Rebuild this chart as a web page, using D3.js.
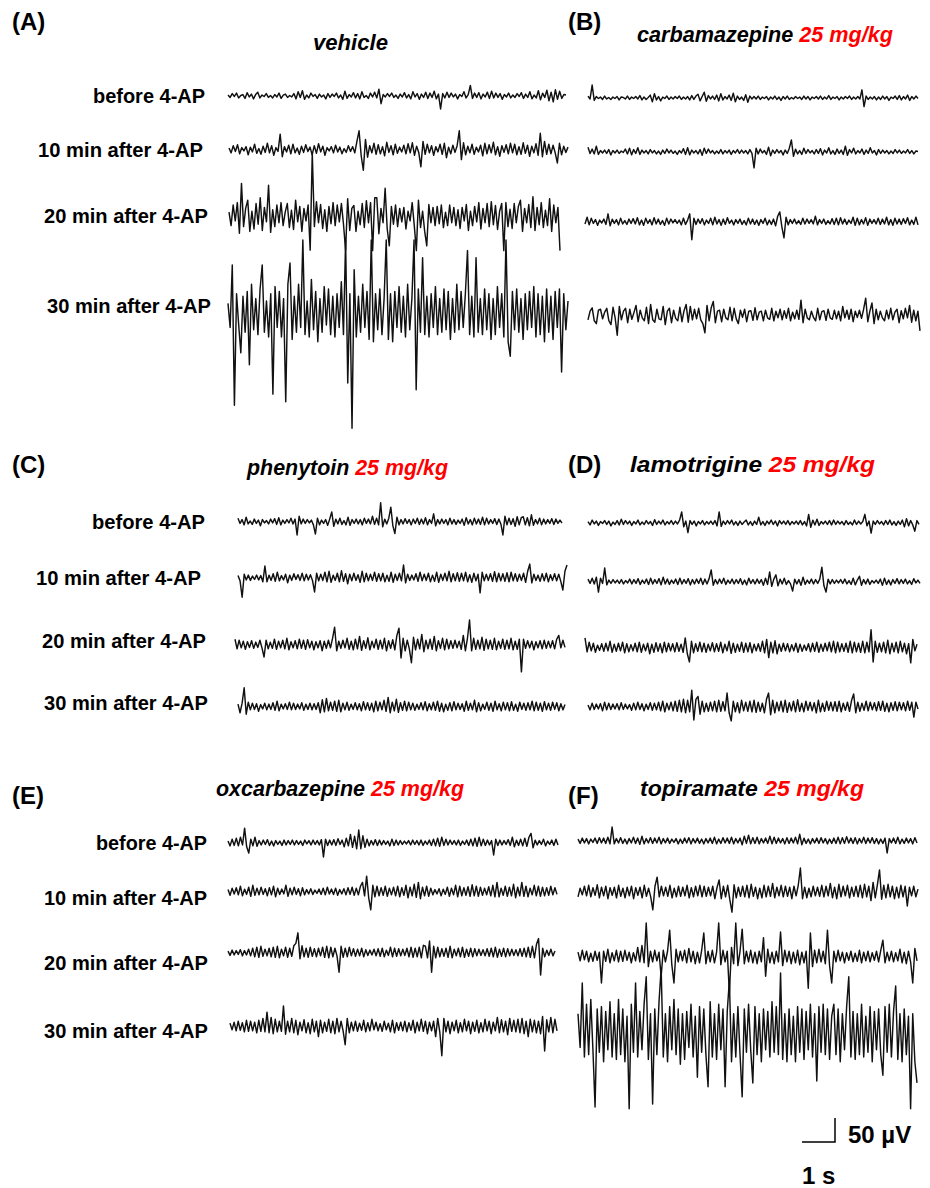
<!DOCTYPE html>
<html><head><meta charset="utf-8">
<script src="https://cdn.jsdelivr.net/npm/d3@7"></script>
<style>body{margin:0;background:#fff}</style>
</head><body><svg id="c" width="930" height="1188"></svg>
<script>
// ---------------- data ----------------
const rowLabels = ["before 4-AP", "10 min after 4-AP", "20 min after 4-AP", "30 min after 4-AP"];
const panelLetters = ["(A)", "(B)", "(C)", "(D)", "(E)", "(F)"];
const drugNames = ["vehicle", "carbamazepine", "phenytoin", "lamotrigine", "oxcarbazepine", "topiramate"];
const drugDoses = ["", "25 mg/kg", "25 mg/kg", "25 mg/kg", "25 mg/kg", "25 mg/kg"];
const traceDurationSec = 10;       // each trace is 10 s long
const scaleBarMicroV = 50;         // vertical calibration
const scaleBarSec = 1;             // horizontal calibration
const scaleBarLabels = ["50 µV", "1 s"];

// EEG traces in µV, 160 samples per 10 s trace
const vehicleBefore = [2,-3,5,-1,6,-4,1,3,-5,7,-2,4,-6,3,8,-4,2,-1,5,-3,1,-4,3,-2,6,-5,2,4,-3,1,-2,5,-6,9,-3,11,-7,2,-4,6,-1,3,-5,4,-2,2,-6,5,-3,4,-1,6,-4,2,-7,10,-5,3,-2,7,-4,5,-6,9,-3,1,-5,6,-2,8,-4,14,-16,3,-2,5,-1,6,-3,2,-5,4,-2,7,-4,3,-6,9,-2,5,-7,4,-3,8,-5,6,-3,10,-6,4,-27,5,-4,8,-3,6,-2,4,-6,3,-1,9,-4,3,22,-5,6,-3,7,-6,4,-2,8,-5,10,-4,6,-3,5,-7,3,-2,6,-4,2,-3,5,-1,7,-5,4,-3,9,-6,2,-4,11,-8,6,-3,12,-10,8,-12,13,-7,10,-5,3,2];
const vehicle10 = [4,-6,9,-3,11,-8,5,-2,7,-10,6,-4,12,-7,3,-9,8,-5,14,-6,9,-11,5,-3,33,-14,7,-4,10,-8,12,-6,4,-9,8,-5,11,-3,6,-10,9,-7,13,-4,8,-11,5,-2,7,-6,10,-4,6,-8,3,-5,9,-3,7,-6,18,40,-12,-42,22,-15,9,-6,14,-9,11,-8,7,-12,16,-5,9,-10,12,-7,6,-4,10,-8,13,-6,15,-11,8,-5,-35,18,-9,12,-6,9,-11,7,-4,12,-9,14,-16,6,-8,10,-5,9,40,-20,15,-10,8,-6,12,-9,6,-4,10,-12,14,-8,11,-6,16,-10,7,-13,9,-5,11,-8,14,-6,12,-10,7,-9,15,-7,10,-13,8,-6,13,-11,35,-14,18,-9,12,-8,10,-6,-27,14,-10,8,-5,6];
const vehicle20 = [10,-18,25,-8,30,-34,70,-20,18,35,-30,12,-25,28,-15,40,-28,20,-10,66,-32,15,-20,25,-12,30,-18,10,28,-22,14,-26,35,-10,22,-30,18,-8,25,-69,133,-20,32,-12,26,-24,15,-30,22,-14,30,-18,25,-10,28,-15,-69,38,-28,18,24,-30,12,-16,28,-22,34,-12,30,-70,40,40,-35,18,-12,60,-25,-60,22,-15,25,-20,18,-10,20,-25,12,-8,30,-18,-70,35,-22,12,-30,-60,26,-12,20,-18,22,-14,25,-22,10,-18,25,-12,20,-18,15,-24,20,-8,26,-28,12,-18,22,-10,30,-25,18,-12,28,-20,32,-16,24,-26,12,28,-70,30,-20,16,-24,28,-12,22,35,-30,18,-12,26,-22,42,-28,20,-16,30,-22,14,-18,38,-30,25,-12,20,-70];
const vehicle30 = [20,-30,100,-192,40,-25,-83,35,-40,45,-108,60,-35,30,-45,50,100,-40,25,-50,40,-169,55,-30,45,-50,30,-185,60,104,-55,35,-40,60,-30,152,-45,25,-50,70,-35,45,-60,30,-40,55,-25,50,-45,35,-50,40,-30,65,-45,152,-146,40,-240,90,-50,35,-40,60,-30,45,-55,152,-60,40,-35,50,-45,30,152,-55,40,-60,45,-30,55,-40,35,-50,60,-35,30,152,-160,50,-40,115,-45,35,-50,40,-30,55,-45,30,-40,50,-35,45,-55,30,-40,60,-35,45,-30,40,130,-45,35,-50,115,-40,30,-45,50,-35,40,-55,30,-45,55,-30,40,-50,152,-60,-90,45,-35,50,-40,30,-55,40,-35,45,-30,55,-50,40,-45,35,-60,50,-40,35,-55,45,-30,50,-123,40,-35,25];

const carbBefore = [4,-2,27,-5,3,-1,2,-3,4,-2,1,-3,2,-1,3,-4,2,1,-2,4,-3,2,-1,3,-2,5,-4,2,-3,1,6,-8,9,-4,3,-6,2,-1,4,-3,2,-2,3,-1,4,-3,2,-2,3,-4,5,-3,4,8,-6,3,12,-7,5,-2,4,-3,6,-6,9,-4,3,-2,6,-5,10,-8,4,-3,2,-5,7,-9,4,-2,3,-2,4,-3,2,-1,3,-4,2,-2,4,-3,2,-5,3,-2,4,-3,1,-2,3,-1,2,-3,4,-2,3,-4,2,-1,3,-2,4,-3,2,-2,5,-3,2,-1,3,-4,2,-2,3,-1,4,-3,2,-2,3,-2,17,-18,4,-3,2,-2,3,-4,2,-3,4,-2,3,-5,2,-1,4,-3,5,-4,3,-2,6,-5,3,-2,4,-1];
const carb10 = [10,-3,6,-4,12,-5,3,-2,4,-3,5,-6,3,-2,4,-3,2,-1,6,-4,8,-6,5,-3,9,-5,4,-2,3,-4,5,-2,3,-4,2,-5,4,-3,6,-2,4,-3,2,-5,3,-2,7,-5,9,-6,4,-2,3,-4,5,-7,8,-3,6,-2,3,-4,2,-3,5,-4,3,-2,4,-5,3,-2,5,-3,4,-2,3,-4,5,-3,-33,8,-4,6,-2,3,-5,10,-8,4,-3,5,-2,3,-6,4,-3,8,25,-9,6,-4,3,-5,8,-3,5,-2,3,-4,5,-3,7,-6,4,-2,9,-4,3,-5,6,-3,4,-5,12,-7,5,-2,8,-4,3,-2,6,-5,4,-3,9,-2,3,-6,5,-3,4,-2,3,-4,2,-3,5,-2,4,-3,2,-2,5,-3,3,-4,2,1];
const carb20 = [-4,10,-6,8,-3,5,-7,4,-2,6,-5,17,-8,6,-3,5,-6,8,-4,3,-5,6,-3,7,-4,9,-6,4,-7,8,-3,5,-6,9,-4,6,-5,3,-7,8,-4,6,-2,5,-3,4,-6,8,-5,4,17,-37,8,-5,6,-3,7,-6,4,-3,8,-6,10,-4,5,-7,6,-5,9,-3,4,-6,5,-3,6,-5,3,-6,8,-4,6,-5,4,-7,5,-3,8,-6,4,-5,6,-8,12,21,-10,-33,10,-6,5,-3,6,-4,3,-5,8,-4,6,-3,5,-4,12,-6,5,-3,6,-5,3,-4,7,-5,8,-6,9,-4,6,-5,4,-3,10,-7,8,-6,5,-4,9,-7,6,-3,5,-4,8,-5,6,-4,10,-6,5,-7,8,-4,6,-5,7,-3,9,-6,4,-5,10,-6];
const carb30 = [-10,8,15,-12,-18,10,12,-8,6,14,-12,-20,16,-6,-42,18,-10,8,14,-16,12,-9,5,20,-14,10,-6,-12,16,-18,22,-10,-15,12,-8,-10,18,-20,8,14,-16,10,-7,-12,16,-14,9,22,-15,18,-10,12,-8,14,-10,-18,-37,20,-12,15,28,-16,8,10,-14,12,-6,-10,16,-12,14,-8,-18,10,-5,12,-14,8,9,-11,15,-10,6,8,-12,10,-6,-9,14,-12,8,-6,12,-10,9,-7,14,-12,6,-8,10,-9,31,-16,12,-6,-10,8,-5,-12,14,-10,7,9,-11,12,-6,-9,10,-8,8,-12,18,-6,10,-9,12,-14,8,-5,10,-7,12,35,-14,8,25,-18,12,-10,8,-6,-12,10,-8,14,-10,6,12,-16,9,-8,14,-6,20,-15,10,-12,8,-33];

const phenBefore = [8,-3,5,-6,10,-4,2,-5,6,-3,4,-8,5,-2,3,-4,6,-2,7,-5,9,-6,4,-3,5,-2,8,-4,6,-27,12,-4,6,-3,5,-2,4,-6,-25,8,-6,4,-3,5,-7,6,21,-9,6,-4,8,-5,3,-6,10,-7,5,-3,6,-4,5,-6,8,-3,6,-4,12,-5,8,-6,40,-10,6,-4,8,31,-8,-24,10,-6,5,-4,7,-3,5,-6,6,-3,8,-5,6,-4,9,-6,5,-3,17,-8,5,-4,6,-3,5,-6,8,-4,5,-5,4,-3,6,-7,9,-4,5,-6,8,-4,6,-5,10,-6,8,-4,5,-3,7,-5,6,-4,-27,12,-6,8,-5,7,-9,11,-6,9,11,-6,9,-8,15,-7,5,-4,8,-6,6,-4,5,-3,7,-5,6,-3,4,-2];
const phen10 = [5,-6,-40,8,-4,6,-5,4,-3,6,-4,5,-8,25,-8,6,-5,9,-7,12,-6,5,-4,8,-10,6,-5,9,-3,7,-5,10,-6,8,-4,7,-5,-29,10,-6,8,-5,12,-8,14,-9,6,-5,10,-8,15,-7,9,-12,8,-6,10,-5,7,-9,14,-8,10,-6,8,-5,12,-7,9,-6,10,-8,6,-7,12,-9,8,-5,10,-6,27,-10,8,-5,6,-4,9,-7,12,-6,8,-5,10,-8,6,-7,12,-9,8,-5,10,-6,14,-8,9,-6,11,-7,10,-6,12,-8,7,-9,10,-6,8,-31,12,-6,8,-5,9,-7,13,-8,10,-6,9,-7,11,-8,12,-6,9,-7,8,-5,10,-9,14,29,-10,8,-5,6,-7,9,-6,10,-8,7,-5,9,-6,8,-7,-25,14,27];
const phen20 = [12,-8,10,-6,8,-9,7,-5,9,-7,6,-5,10,-6,-25,10,-8,6,-7,12,-9,8,-6,10,-8,14,-10,7,-6,9,-8,12,-7,10,-9,11,-6,8,-10,7,-6,9,-12,8,-7,10,-6,14,37,-12,8,-7,10,-6,14,-9,8,-10,12,-8,18,-11,9,-7,15,-10,8,-6,12,-9,10,-8,14,-12,9,-7,11,-10,20,35,-27,14,-12,10,-8,-37,16,-10,12,-8,22,-14,10,-8,12,-9,18,-12,9,-7,14,-10,12,-8,9,-7,10,-6,8,-9,20,-12,14,52,-12,14,-9,10,-8,16,-11,12,-8,10,-9,14,-10,8,-7,12,-9,10,-8,14,-10,8,-9,12,-56,12,-7,9,-6,8,-10,7,-6,9,-8,10,-7,8,-6,9,-8,12,20,-6,10,-5];
const phen30 = [6,-12,8,40,-15,10,-6,8,-5,7,-9,5,-4,8,-6,6,-5,9,-7,12,-8,6,-4,7,-5,10,-6,8,-5,6,-4,9,-7,6,-5,8,-6,7,-5,9,-12,15,-10,18,-8,10,-7,12,-9,14,-10,8,-6,10,-7,6,-5,9,-6,7,-8,11,-6,9,-7,8,-10,12,-8,10,-6,14,-9,20,-12,10,-8,16,-11,9,-7,12,-8,10,-6,8,-7,6,-5,9,-6,11,-8,7,-6,10,-7,12,-9,8,-10,6,-7,9,-8,11,-6,8,-5,7,-9,12,-7,8,-6,14,-10,9,-8,6,-5,10,-7,8,-9,12,-6,7,-8,10,-6,9,-8,11,-7,6,-9,10,-5,8,-7,9,-6,12,-8,10,-7,8,-9,11,-6,8,-7,10,-5,9,-8,7,-6,5];

const lamoBefore = [3,-4,6,-2,4,-5,3,-1,5,-3,4,-6,2,-3,5,-4,8,-3,5,-2,4,-5,3,-2,6,-4,2,-3,5,-2,3,-5,7,-3,4,-2,6,-4,3,-2,5,-3,4,-2,6,23,-8,4,-20,5,-3,4,-6,3,-2,5,-4,3,-2,4,-3,5,-6,23,-7,4,-3,5,-2,6,-4,3,-5,4,-3,2,6,-4,3,-5,4,-3,12,-4,3,-5,4,-2,6,-3,4,-6,5,-2,4,-3,5,-4,3,-2,4,-3,5,-4,3,-6,18,-9,6,-4,8,-5,3,-2,4,-3,5,-4,6,-3,4,-2,3,-4,5,-3,2,-4,6,-3,4,-2,3,18,-6,4,-21,4,-3,5,-2,3,-4,5,-3,6,-4,3,-5,4,-3,6,-8,9,-6,5,-4,-17,5,-3];
const lamo10 = [6,-3,8,-4,10,-21,8,-3,29,-6,4,-3,5,-2,4,-3,5,-4,3,-2,6,-4,5,-3,7,-5,4,-3,6,-5,8,-4,5,-3,7,-6,10,-4,6,-5,4,-3,6,-5,8,-4,5,-3,7,-6,5,-4,6,-3,8,-5,6,-4,7,25,-7,5,-4,6,-3,8,-5,4,-3,6,-4,5,-3,7,-5,4,-6,8,-3,5,-4,6,-3,5,-7,8,-5,21,-9,6,15,-8,6,-4,8,-5,3,-4,-19,6,-4,5,-7,10,-5,4,-3,6,-4,5,-3,6,31,-8,-21,6,-4,5,-3,4,-2,5,-3,6,-4,3,-5,8,-6,4,12,-7,5,-4,6,-5,3,-2,4,-3,6,-7,8,-5,4,-6,5,-3,7,-4,5,-3,6,-4,3,-5,7,-2,4,-3];
const lamo20 = [21,-8,12,-6,10,-9,6,-5,9,-7,10,-6,14,-9,8,-7,10,-6,12,-10,9,-8,7,-6,10,-8,12,-9,8,-6,10,-12,8,-9,11,-7,9,-10,12,-8,10,-6,9,-8,11,-7,8,-9,21,-12,-29,14,-10,9,-7,12,-8,10,-9,8,-6,11,-8,9,-7,12,-10,8,-6,14,-11,10,-9,8,-7,12,-9,10,-8,11,-10,8,-6,9,-7,14,-10,18,-20,12,-10,15,-12,8,-7,10,-6,9,-8,7,-6,10,-9,8,-7,6,-5,9,-8,10,-7,12,-9,8,-7,10,-6,12,-8,14,-10,12,-8,9,-7,10,-9,14,-10,12,-8,10,-9,14,-10,12,-8,38,-29,14,-9,10,-8,12,-10,16,-12,10,-8,12,-10,14,-8,10,-12,9,-31,18,-6,8];
const lamo30 = [4,-6,8,-5,6,-4,7,-8,10,-6,8,-5,6,-4,7,-6,9,-5,6,-4,5,-7,8,-6,10,-5,7,-8,6,-5,9,-7,8,-6,10,-8,12,-10,8,-6,10,-8,12,-9,14,-10,16,-12,14,-10,35,-27,16,22,-15,12,-10,8,-9,10,-8,12,-10,14,-9,11,-8,29,-12,-29,12,-10,9,-12,14,-8,10,-9,12,-10,14,-11,10,-9,8,-12,16,29,-16,14,-12,10,-8,12,-10,14,-11,9,-8,12,-10,15,-9,8,-10,12,-7,10,-8,9,-12,14,-10,8,-9,12,-7,10,-8,11,-9,12,-10,8,-7,10,-9,14,27,-12,10,-9,8,-7,12,-8,10,-6,9,-8,11,-7,12,-9,8,-10,9,-7,11,-8,10,-6,9,-8,12,-7,10,-21,10,-4];

const oxcBefore = [4,-6,8,-5,10,-6,12,-4,31,-8,-21,8,-6,12,-7,5,-4,6,-3,7,-5,4,-6,5,-3,4,-5,6,-4,5,-3,6,-4,5,-3,4,-5,6,-2,5,-4,6,-3,5,-4,7,-29,8,-5,6,-4,7,-5,9,-3,6,-8,10,-6,18,-9,14,-12,27,-12,15,-9,8,-6,5,-4,7,-5,6,-4,5,-3,4,-6,8,-5,6,-4,5,-3,4,-2,5,-4,6,-3,5,-4,6,-5,4,-3,6,-5,8,-6,10,-7,12,-5,8,-4,6,-3,5,-4,6,-5,4,-3,6,-5,8,-6,10,-7,12,-6,8,-5,6,-4,5,-25,8,-5,6,-4,5,-3,7,-5,12,-8,6,-5,8,-6,10,-7,12,20,-10,6,-4,5,-3,8,-6,4,-3,6,-5,8,-4];
const oxc10 = [5,-7,8,-4,9,-6,12,-8,6,-5,10,-9,14,-7,8,-6,10,-5,7,-8,9,-6,12,-10,8,-5,6,-4,14,-9,8,-6,10,-5,7,-8,9,-6,5,-4,7,-5,4,-3,6,-5,8,-6,10,-4,6,-5,8,-7,5,-4,7,-6,9,-5,10,-7,8,-6,12,20,-8,33,-12,-37,14,-10,12,-8,9,-7,12,-9,8,-6,10,-8,12,-10,9,-7,14,-12,10,-8,16,-11,20,-14,10,-8,12,-9,8,-6,5,-4,7,-8,6,-5,10,-9,8,-6,14,-10,12,-8,9,-7,11,-9,15,-8,12,-9,10,-7,8,-6,11,-8,14,-10,20,-10,8,-7,12,-9,10,-8,16,-12,10,-8,20,-9,12,-10,8,-6,14,-8,12,-9,10,-8,9,-7,12,-6,9,-5];
const oxc20 = [4,-5,6,-4,5,-3,7,-6,5,-4,8,-6,10,-8,12,-9,14,-7,8,-6,10,-8,12,-9,14,-10,8,-6,12,-9,10,-7,15,20,42,-12,15,-8,10,-9,12,-7,9,-8,10,-6,12,-9,14,-10,12,-8,10,-6,-40,14,-9,10,-8,12,-6,9,-7,8,-6,10,-8,7,-5,6,-4,8,-6,9,-7,10,-8,6,-5,12,-8,10,-7,9,-6,8,-5,10,-8,12,-9,10,-8,12,-10,16,14,-10,25,-40,14,-10,12,-8,9,-7,10,-9,14,-10,8,-6,10,-8,12,-9,8,-7,10,-8,9,-6,8,-5,7,-6,9,-7,10,-8,12,-9,8,-7,10,-8,9,-6,8,-5,7,-6,9,-7,10,-8,12,-9,14,-10,18,30,-46,10,-8,6,-5,8,-6,4];
const oxc30 = [8,-6,10,-8,12,-7,9,-10,14,-9,12,-8,10,-12,14,-9,18,-10,31,-12,20,-14,16,-10,12,-9,44,-15,12,-10,18,-12,14,-16,10,-8,15,-12,9,-14,16,-10,12,-20,14,-12,10,-9,16,-12,12,-14,18,-10,12,-8,-37,18,-12,10,-8,12,-9,8,-7,14,-10,9,-8,16,-6,10,-8,7,-9,12,-6,8,-10,14,-12,9,-7,10,-8,12,-10,9,-7,14,-12,10,-8,16,-9,12,-14,10,-8,12,-20,18,-10,-60,18,-10,12,-14,10,-8,14,-12,9,-10,16,-8,12,-14,10,-9,14,-12,9,-10,16,-8,12,-14,10,-8,20,-12,15,-10,12,-16,18,-9,14,-10,16,-12,18,-14,12,-20,16,-10,14,-12,12,-14,22,-50,15,-10,20,-12,16,-8];

const topiBefore = [4,-5,6,-4,5,-6,4,-3,6,-5,7,-4,6,-5,8,-6,29,-6,5,-4,7,-5,4,-6,5,-4,8,-5,6,-7,10,-6,5,-4,7,-5,6,-4,8,-6,5,-4,6,-5,4,-3,5,-6,4,-5,6,-4,7,-6,5,-4,6,-5,4,-6,5,-4,6,-5,8,-6,4,-5,7,-4,6,-5,8,-6,5,-4,6,-8,10,-5,12,-6,7,-5,8,-6,5,-4,6,-5,10,-6,8,-5,6,-4,5,-6,7,-5,6,-4,8,-6,14,-8,6,-5,4,-6,5,-4,6,-5,7,-4,5,-6,4,-5,6,-5,8,-6,7,-5,9,-4,6,-5,7,-6,5,-4,8,-5,6,-4,7,-5,5,-6,4,-5,6,-25,5,-4,6,-5,8,-6,4,-5,6,-4,5,-6,7,-4];
const topi10 = [-10,8,-6,12,-8,14,-10,9,-7,15,-12,10,-8,12,-14,9,-7,10,-12,14,-9,8,-12,10,-8,12,-14,9,-7,10,-12,14,-9,8,-10,-37,12,31,-10,12,-8,10,-9,14,-12,8,-10,12,-9,10,-8,14,-12,9,-10,12,-8,14,-10,12,-9,10,-8,12,-14,9,25,-14,12,-10,14,-16,-42,15,-12,10,-9,12,-10,14,-12,16,-9,10,-14,8,-12,14,-10,12,-9,18,-12,10,-8,14,-10,12,-9,10,-14,12,-8,14,50,-14,10,-12,8,-10,12,-8,10,-9,14,-10,12,-8,18,-12,10,-14,16,-10,12,-8,14,-12,10,-9,12,-10,14,-12,16,-10,12,-18,20,-12,15,46,-15,14,-12,16,-10,12,-14,10,-12,14,-10,12,-29,10,-8,12,-10,6];
const topi20 = [10,-8,14,-6,12,-10,8,-9,12,-7,10,-54,12,-9,16,-12,9,-8,14,-10,12,-9,14,-7,10,-12,9,-8,20,-10,24,-12,71,-20,12,-10,14,-8,10,-40,14,-10,12,56,-16,-54,16,-10,12,-8,14,-12,18,-10,12,-14,10,-12,14,50,-14,12,-10,14,-12,10,71,-16,14,-10,12,-75,20,-14,71,-18,12,58,-14,12,-10,14,-12,10,-14,12,-10,40,-40,16,-12,10,-14,12,-10,52,-18,14,-10,12,-14,10,-12,14,-16,10,-12,12,-65,50,-20,14,-12,16,-10,12,-14,56,-18,-54,12,-10,14,-8,10,-12,9,-7,12,-10,8,-9,14,-12,10,-8,12,-10,9,-7,12,-10,14,35,-12,10,-8,12,-10,9,-8,16,-12,10,-14,12,-10,-54,18,-8];
const topi30 = [40,-30,104,-50,60,-45,70,-35,-154,50,-40,55,-60,45,-35,65,-50,40,-55,70,-45,50,-60,35,-158,60,-40,104,-50,45,-35,60,117,-55,40,-148,50,-45,65,135,-50,40,-60,55,-35,70,-45,50,-65,40,-55,45,-30,60,-50,35,-92,55,-40,50,-45,-112,65,-50,40,-55,60,-35,50,-112,45,110,-60,40,-50,55,-45,-133,50,-40,60,-35,-104,55,-45,40,-60,50,-35,45,-50,65,-40,55,-45,125,-55,40,-60,50,-45,35,-60,55,-40,50,-55,45,-35,60,-50,40,-100,55,-40,60,-45,50,-55,35,60,-45,50,-60,40,-35,55,117,-50,45,-55,40,-45,60,-50,35,-40,55,-60,45,-35,50,-45,-88,55,-40,60,-50,45,98,-55,40,-60,50,-45,35,-158,40,-60,-104];

const panelTraces = [
  [vehicleBefore, vehicle10, vehicle20, vehicle30],
  [carbBefore, carb10, carb20, carb30],
  [phenBefore, phen10, phen20, phen30],
  [lamoBefore, lamo10, lamo20, lamo30],
  [oxcBefore, oxc10, oxc20, oxc30],
  [topiBefore, topi10, topi20, topi30]
];

// ---------------- layout (positions only) ----------------
const pxPerMicroV = 24 / 50;
const panelLayout = [
  {letter:[12,30], title:[313,50,75], traces:[[228,566,96],[229,568,150],[229,560,217],[228,568,313]],
   labels:[[205,103,112],[203,157,165],[208,223,164],[211,313,164]]},
  {letter:[568,30], title:[637,42,256], traces:[[588,918,98],[588,918,152],[585,918,222],[588,920,315]]},
  {letter:[12,473], title:[247,475,201], traces:[[238,562,522],[238,567,578],[235,565,645],[238,565,707]],
   labels:[[205,529,113],[201,585,165],[206,648,164],[208,710,164]]},
  {letter:[568,473], title:[630,472,245], traces:[[588,919,523],[588,920,582],[585,917,648],[588,918,707]]},
  {letter:[12,804], title:[216,796,248], traces:[[228,558,843],[228,557,892],[228,555,953],[230,557,1027]],
   labels:[[207,850,111],[207,905,163],[208,970,164],[208,1038,164]]},
  {letter:[568,804], title:[640,796,224], traces:[[578,917,841],[578,918,892],[578,917,957],[578,917,1033]]}
];

const svg = d3.select("#c");
const font = "'Liberation Sans', Arial, sans-serif";

panelLayout.forEach((p, pi) => {
  svg.append("text").attr("x", p.letter[0]).attr("y", p.letter[1])
    .attr("font-family", font).attr("font-weight", "bold").attr("font-size", 24)
    .attr("fill", "#000").text(panelLetters[pi]);
  const t = svg.append("text").attr("x", p.title[0]).attr("y", p.title[1])
    .attr("font-family", font).attr("font-weight", "bold").attr("font-style", "italic")
    .attr("font-size", 22).attr("textLength", p.title[2]).attr("lengthAdjust", "spacingAndGlyphs");
  t.append("tspan").attr("fill", "#000").text(drugNames[pi] + (drugDoses[pi] ? " " : ""));
  if (drugDoses[pi]) t.append("tspan").attr("fill", "#ff0000").text(drugDoses[pi]);
  if (p.labels) {
    p.labels.forEach((l, li) => {
      svg.append("text").attr("x", l[0]).attr("y", l[1]).attr("text-anchor", "end")
        .attr("font-family", font).attr("font-weight", "bold").attr("font-size", 20)
        .attr("textLength", l[2]).attr("lengthAdjust", "spacingAndGlyphs")
        .attr("fill", "#000").text(rowLabels[li]);
    });
  }
  p.traces.forEach((tr, ti) => {
    const data = panelTraces[pi][ti];
    const n = data.length;
    const x = d3.scaleLinear().domain([0, traceDurationSec]).range([tr[0], tr[1]]);
    const y = d3.scaleLinear().domain([-100, 100]).range([tr[2] + 100 * pxPerMicroV, tr[2] - 100 * pxPerMicroV]);
    const line = d3.line().x((d, i) => x(i * traceDurationSec / (n - 1))).y(d => y(d));
    svg.append("path").datum(data).attr("d", line)
      .attr("fill", "none").attr("stroke", "#111").attr("stroke-width", 1.45)
      .attr("stroke-linejoin", "round");
  });
});

// scale bar
const sbX = d3.scaleLinear().domain([0, traceDurationSec]).range([0, 330]);
const sbY = d3.scaleLinear().domain([0, 100]).range([0, 100 * pxPerMicroV]);
const sbOrigin = [835, 1142];
svg.append("path")
  .attr("d", `M${sbOrigin[0] - sbX(scaleBarSec)},${sbOrigin[1]}H${sbOrigin[0]}V${sbOrigin[1] - sbY(scaleBarMicroV)}`)
  .attr("fill", "none").attr("stroke", "#000").attr("stroke-width", 1.5);
svg.append("text").attr("x", 848).attr("y", 1143).attr("font-family", font).attr("font-weight", "bold")
  .attr("font-size", 24).text(scaleBarLabels[0]);
svg.append("text").attr("x", 802).attr("y", 1184).attr("font-family", font).attr("font-weight", "bold")
  .attr("font-size", 24).text(scaleBarLabels[1]);
</script></body></html>
